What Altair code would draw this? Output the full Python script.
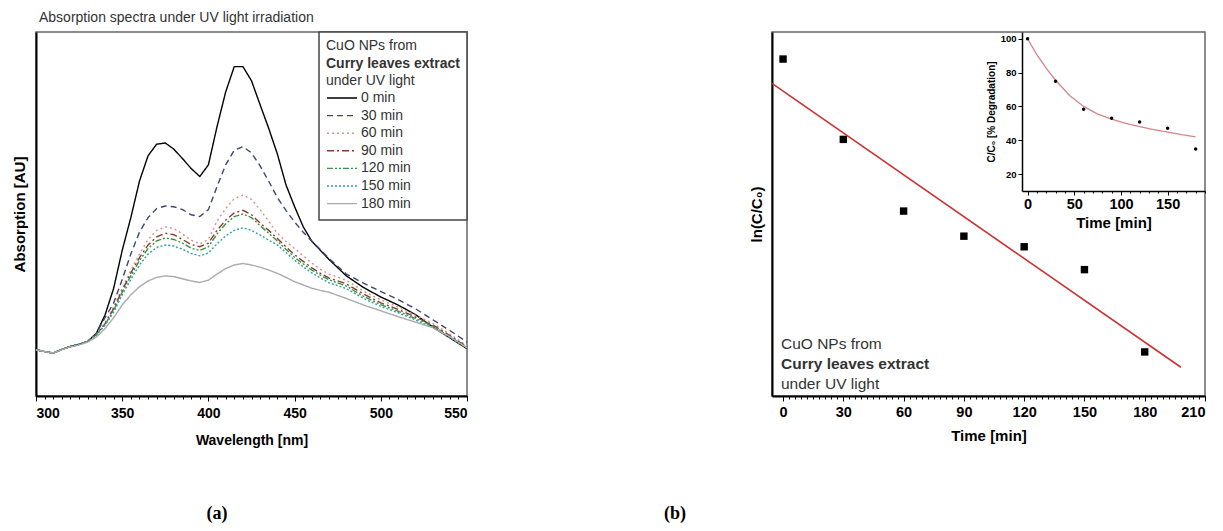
import altair as alt
import pandas as pd

FONT = "Liberation Sans"

# ---------------- (a) absorption spectra ----------------
wavelength = [300, 305, 310, 315, 320, 325, 330, 335, 340, 345, 350, 355, 360, 365, 370, 375,
              380, 385, 390, 395, 400, 405, 410, 415, 420, 425, 430, 435, 440, 445, 450, 455,
              460, 465, 470, 480, 490, 500, 510, 520, 530, 540, 550]

abs_0 = [0.127, 0.122, 0.118, 0.128, 0.136, 0.142, 0.150, 0.172, 0.222, 0.295, 0.400, 0.490,
         0.590, 0.660, 0.692, 0.695, 0.678, 0.652, 0.625, 0.603, 0.635, 0.740, 0.835, 0.905,
         0.905, 0.866, 0.800, 0.735, 0.665, 0.580, 0.520, 0.465, 0.425, 0.400, 0.375,
         0.330, 0.298, 0.272, 0.250, 0.224, 0.190, 0.160, 0.130]
abs_30 = [0.127, 0.122, 0.118, 0.128, 0.136, 0.142, 0.150, 0.172, 0.215, 0.255, 0.320, 0.390,
          0.450, 0.490, 0.515, 0.522, 0.520, 0.512, 0.498, 0.493, 0.512, 0.575, 0.635, 0.675,
          0.685, 0.668, 0.632, 0.590, 0.545, 0.510, 0.478, 0.450, 0.425, 0.402, 0.378,
          0.335, 0.310, 0.287, 0.265, 0.240, 0.210, 0.180, 0.148]
abs_60 = [0.127, 0.122, 0.118, 0.128, 0.136, 0.142, 0.150, 0.170, 0.200, 0.245, 0.295, 0.345,
          0.390, 0.430, 0.455, 0.465, 0.460, 0.445, 0.428, 0.418, 0.430, 0.480, 0.515, 0.542,
          0.552, 0.540, 0.512, 0.480, 0.447, 0.425, 0.405, 0.385, 0.365, 0.348, 0.335,
          0.318, 0.288, 0.264, 0.244, 0.222, 0.200, 0.170, 0.138]
abs_90 = [0.127, 0.122, 0.118, 0.128, 0.136, 0.142, 0.150, 0.169, 0.198, 0.240, 0.290, 0.338,
          0.380, 0.415, 0.437, 0.447, 0.443, 0.430, 0.416, 0.410, 0.420, 0.455, 0.483, 0.503,
          0.510, 0.498, 0.475, 0.455, 0.433, 0.410, 0.388, 0.370, 0.352, 0.337, 0.324,
          0.308, 0.280, 0.256, 0.238, 0.217, 0.196, 0.166, 0.135]
abs_120 = [0.127, 0.122, 0.118, 0.128, 0.136, 0.142, 0.150, 0.168, 0.196, 0.235, 0.285, 0.330,
           0.372, 0.405, 0.426, 0.434, 0.430, 0.420, 0.406, 0.400, 0.410, 0.445, 0.473, 0.493,
           0.500, 0.490, 0.468, 0.447, 0.426, 0.403, 0.381, 0.363, 0.346, 0.332, 0.319,
           0.302, 0.274, 0.251, 0.233, 0.213, 0.193, 0.163, 0.134]
abs_150 = [0.127, 0.122, 0.118, 0.128, 0.136, 0.142, 0.150, 0.167, 0.194, 0.230, 0.278, 0.320,
           0.360, 0.390, 0.408, 0.415, 0.412, 0.403, 0.392, 0.385, 0.393, 0.418, 0.440, 0.455,
           0.462, 0.455, 0.442, 0.428, 0.415, 0.394, 0.373, 0.355, 0.338, 0.324, 0.311,
           0.295, 0.268, 0.246, 0.229, 0.209, 0.189, 0.160, 0.132]
abs_180 = [0.127, 0.122, 0.118, 0.127, 0.135, 0.140, 0.148, 0.162, 0.185, 0.215, 0.250, 0.278,
           0.300, 0.316, 0.326, 0.330, 0.328, 0.322, 0.316, 0.312, 0.318, 0.335, 0.350, 0.360,
           0.364, 0.360, 0.354, 0.346, 0.337, 0.326, 0.314, 0.305, 0.296, 0.290, 0.285,
           0.268, 0.250, 0.234, 0.218, 0.203, 0.188, 0.163, 0.132]

series_names = ["0 min", "30 min", "60 min", "90 min", "120 min", "150 min", "180 min"]
series_values = [abs_0, abs_30, abs_60, abs_90, abs_120, abs_150, abs_180]
series_colors = ["#000000", "#3b4577", "#d8918a", "#8a3b2c", "#3c9440", "#2f9fa6", "#ababab"]
series_dashes = [[1, 0], [6, 4], [2, 3], [7, 3, 2, 3], [6, 2, 2, 2, 2, 2], [2, 2], [1, 0]]

legend_header = ["CuO NPs from", "Curry leaves extract", "under UV light"]

# ---------------- (b) kinetics ----------------
kin_t = [0, 30, 60, 90, 120, 150, 180]
kin_ln = [0.0, -0.288, -0.545, -0.635, -0.673, -0.755, -1.05]
fit_t = [-5.5, 198]
fit_ln = [-0.087, -1.105]

inset_t = [0, 30, 60, 90, 120, 150, 180]
inset_pct = [100, 74.9, 58.3, 53, 50.8, 47.1, 34.8]
curve_t = [0, 10, 20, 30, 45, 60, 75, 90, 105, 120, 135, 150, 165, 180]
curve_pct = [100, 90.5, 82.5, 75.5, 66.5, 60, 55.5, 52.5, 50, 48, 46.3, 44.8, 43.3, 42]

# ---------------- tables ----------------
rows = []
for name, vals in zip(series_names, series_values):
    assert len(vals) == len(wavelength)
    for wl, v in zip(wavelength, vals):
        rows.append({"wavelength": wl, "absorption": v, "time": name})
spec_df = pd.DataFrame(rows)
kin_df = pd.DataFrame({"t": kin_t, "lnC": kin_ln})
fit_df = pd.DataFrame({"t": fit_t, "lnC": fit_ln})
inset_df = pd.DataFrame({"t": inset_t, "pct": inset_pct})
curve_df = pd.DataFrame({"t": curve_t, "pct": curve_pct})
one = pd.DataFrame({"k": [0]})

W_L, W_R, H = 431, 433, 364

# ---------------- left panel ----------------
x_left = alt.X("wavelength:Q",
               scale=alt.Scale(domain=[300, 550], nice=False, zero=False),
               axis=alt.Axis(values=[300, 350, 400, 450, 500, 550], title="Wavelength [nm]",
                             labelFontSize=14, titleFontSize=14, tickSize=5,
                             labelPadding=5, titlePadding=13))
y_left = alt.Y("absorption:Q", scale=alt.Scale(domain=[0, 1], nice=False),
               axis=alt.Axis(title="Absorption [AU]", labels=False, ticks=False,
                             titleFontSize=15, titlePadding=9))

leg = alt.Legend(orient="none", legendX=290, legendY=59, title=None,
                 labelFontSize=14, labelFont=FONT,
                 labelColor="#333333", symbolType="stroke", symbolSize=900,
                 symbolStrokeWidth=1.4, clipHeight=14, rowPadding=3.6, padding=0,
                 labelOffset=3)

box = alt.Chart(one).mark_rect(fill="white", stroke="#444444", strokeWidth=1.5).encode(
    x=alt.value(283), x2=alt.value(431), y=alt.value(0), y2=alt.value(188))

lines = alt.Chart(spec_df).mark_line(strokeWidth=1.4).encode(
    x=x_left, y=y_left,
    color=alt.Color("time:N", scale=alt.Scale(domain=series_names, range=series_colors), legend=leg),
    strokeDash=alt.StrokeDash("time:N", scale=alt.Scale(domain=series_names, range=series_dashes),
                              legend=leg),
)
minor_left = alt.Chart(spec_df).mark_line(opacity=0).encode(
    x=alt.X("wavelength:Q", scale=alt.Scale(domain=[300, 550], nice=False, zero=False),
            axis=alt.Axis(orient="bottom", values=list(range(300, 551, 5)), labels=False,
                          tickSize=3, domain=False, title="")),
    y=y_left,
)
title_a = alt.Chart(one).mark_text(text="Absorption spectra under UV light irradiation",
                                   align="left", baseline="middle", fontSize=14,
                                   font=FONT, color="#333333").encode(
    x=alt.value(3), y=alt.value(-14))
hdr = []
for i, (txt, wt) in enumerate(zip(legend_header, ["normal", "bold", "normal"])):
    hdr.append(alt.Chart(one).mark_text(text=txt, align="left", baseline="middle", fontSize=14,
                                        fontWeight=wt, font=FONT, color="#333333").encode(
        x=alt.value(290), y=alt.value(14 + 17.5 * i)))
lab_a = alt.Chart(one).mark_text(text="(a)", align="center", baseline="middle", fontSize=18,
                                 fontWeight="bold", font="Liberation Serif",
                                 color="black").encode(x=alt.value(181), y=alt.value(482))

left = alt.layer(box, lines, minor_left, title_a, *hdr, lab_a).resolve_axis(
    x="independent").properties(width=W_L, height=H)

# ---------------- right panel ----------------
x_r = alt.X("t:Q", scale=alt.Scale(domain=[-5.5, 210], nice=False, zero=False),
            axis=alt.Axis(values=[0, 30, 60, 90, 120, 150, 180, 210], title="Time [min]",
                          labelFontSize=14.5, titleFontSize=15, tickSize=5, labelPadding=4,
                          titlePadding=10))
x_r_minor = alt.X("t:Q", scale=alt.Scale(domain=[-5.5, 210], nice=False, zero=False),
                  axis=alt.Axis(orient="bottom", values=list(range(0, 211, 3)), labels=False,
                                tickSize=3, domain=False, title=""))
y_r = alt.Y("lnC:Q", scale=alt.Scale(domain=[-1.208, 0.097], nice=False, zero=False),
            axis=alt.Axis(title="ln(C/C₀)", labels=False, ticks=False, titleFontSize=15,
                          titlePadding=8))
pts = alt.Chart(kin_df).mark_square(size=55, color="black", opacity=1).encode(x=x_r, y=y_r)
fit = alt.Chart(fit_df).mark_line(color="#cc3333", strokeWidth=1.6).encode(x=x_r, y=y_r)
minor_right = alt.Chart(kin_df).mark_line(opacity=0).encode(x=x_r_minor, y=y_r)
main_r = alt.layer(alt.layer(pts, fit), minor_right).resolve_axis(x="independent")

x_i = alt.X("t:Q", scale=alt.Scale(domain=[-6, 190], range=[250, 433], nice=False, zero=False),
            axis=alt.Axis(orient="bottom", offset=-205, values=[0, 50, 100, 150],
                          title="Time [min]", labelFontSize=14.5, titleFontSize=15, tickSize=4,
                          labelPadding=2, titlePadding=5, domainWidth=1.5))
x_i_minor = alt.X("t:Q", scale=alt.Scale(domain=[-6, 190], range=[250, 433], nice=False,
                                        zero=False),
                  axis=alt.Axis(orient="bottom", offset=-205, values=list(range(0, 191, 10)),
                                labels=False, tickSize=2, domain=False, title=""))
y_i = alt.Y("pct:Q", scale=alt.Scale(domain=[10, 104], range=[159, 0], nice=False, zero=False),
            axis=alt.Axis(orient="left", offset=-250, values=[20, 40, 60, 80, 100],
                          title="C/C₀ [% Degradation]", labelFontSize=9.5, titleFontSize=10,
                          tickSize=4, labelPadding=2, titlePadding=4, domainWidth=1.5))
icurve = alt.Chart(curve_df).mark_line(color="#d4868c", strokeWidth=1.3).encode(x=x_i, y=y_i)
ipts = alt.Chart(inset_df).mark_circle(size=12, color="black", opacity=1).encode(x=x_i, y=y_i)
iminor = alt.Chart(curve_df).mark_line(opacity=0).encode(x=x_i_minor, y=y_i)
inset = alt.layer(alt.layer(icurve, ipts), iminor).resolve_axis(x="independent")

ann = []
for i, (txt, wt) in enumerate(zip(legend_header, ["normal", "bold", "normal"])):
    ann.append(alt.Chart(one).mark_text(text=txt, align="left", baseline="middle", fontSize=15.5,
                                        fontWeight=wt, font=FONT, color="#333333").encode(
        x=alt.value(9), y=alt.value(312 + 20 * i)))
lab_b = alt.Chart(one).mark_text(text="(b)", align="center", baseline="middle", fontSize=18,
                                 fontWeight="bold", font="Liberation Serif",
                                 color="black").encode(x=alt.value(-97), y=alt.value(482))

right = alt.layer(main_r, inset, *ann, lab_b).resolve_scale(
    x="independent", y="independent").properties(width=W_R, height=H)

chart = alt.hconcat(left, right, spacing=305, bounds="flush").properties(
    padding={"left": 11, "top": 10, "right": 5, "bottom": 0}
).configure(font=FONT).configure_view(stroke="#666666", strokeWidth=1.5).configure_axis(
    grid=False, domainColor="black", domainWidth=2, tickColor="black", labelFont=FONT,
    titleFont=FONT, labelFontWeight="bold", titleFontWeight="bold", labelColor="black",
    titleColor="black")

chart.save("out.html", embed_options={"renderer": "svg", "actions": False})
